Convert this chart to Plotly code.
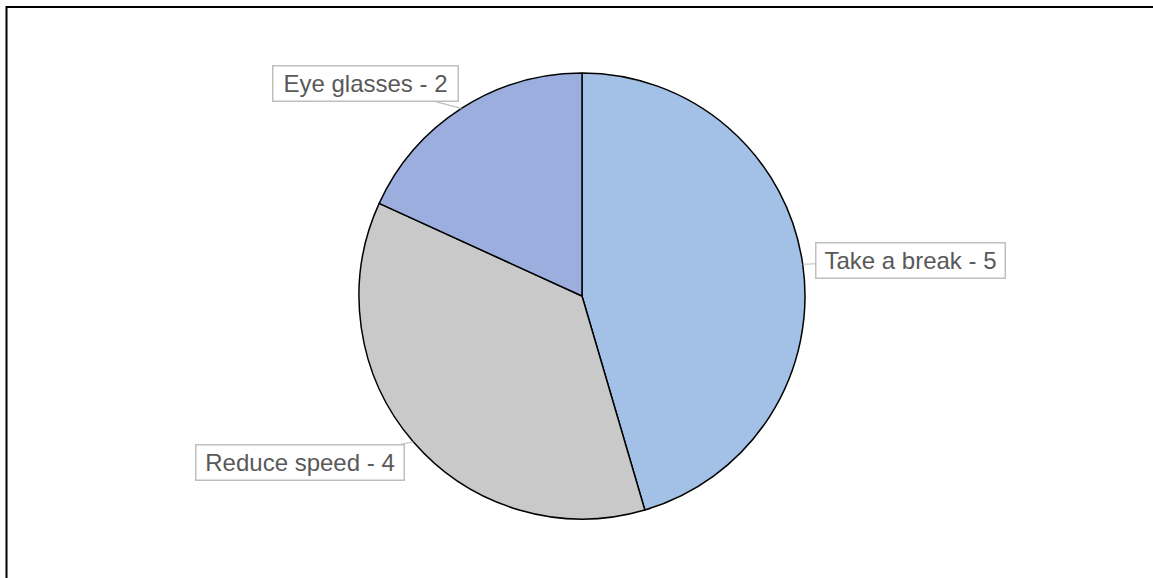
import math
import plotly.graph_objects as go

# Data
labels = ["Take a break", "Reduce speed", "Eye glasses"]
values = [5, 4, 2]
colors = ["#A3C0E6", "#C9C9C9", "#9BAEDE"]

W, H = 1153, 578
# pie placement in pixels (left, top, right, bottom)
px0, py0, px1, py1 = 359, 73, 805, 519
cx, cy = (px0 + px1) / 2, (py0 + py1) / 2
r = (px1 - px0) / 2

fig = go.Figure(go.Pie(
    labels=labels,
    values=values,
    sort=False,
    direction="clockwise",
    rotation=0,
    textinfo="none",
    hoverinfo="label+value",
    marker=dict(colors=colors, line=dict(color="#000000", width=1.5)),
    domain=dict(x=[px0 / W, px1 / W], y=[1 - py1 / H, 1 - py0 / H]),
    showlegend=False,
))

# callout offsets (pixels) from slice edge and label box widths
offsets = {"Take a break": (108, -4), "Reduce speed": (-113, 20), "Eye glasses": (-96, -25)}
box_w = {"Take a break": 182, "Reduce speed": 201, "Eye glasses": 178}

total = sum(values)
cum = 0
annotations = []
for lab, v in zip(labels, values):
    mid = (cum + v / 2) / total * 2 * math.pi
    cum += v
    ex = cx + r * math.sin(mid)
    ey = cy - r * math.cos(mid)
    ax, ay = offsets[lab]
    annotations.append(dict(
        x=ex / W, y=1 - ey / H, xref="paper", yref="paper",
        text=f"{lab} - {v}",
        showarrow=True, arrowhead=0, arrowwidth=1.2, arrowcolor="#BFBFBF",
        ax=ax, ay=ay,
        width=box_w[lab], height=28, align="center", valign="middle",
        font=dict(family="Liberation Sans, Arial, sans-serif", size=24, color="#595959"),
        bgcolor="#FFFFFF", bordercolor="#BFBFBF", borderwidth=1.5, borderpad=3,
    ))

fig.update_layout(
    width=W, height=H,
    margin=dict(l=0, r=0, t=0, b=0),
    paper_bgcolor="#FFFFFF",
    plot_bgcolor="#FFFFFF",
    annotations=annotations,
    shapes=[dict(type="rect", xref="paper", yref="paper",
                 x0=6.5 / W, x1=1.02, y0=-0.02, y1=1 - 7 / H,
                 line=dict(color="#000000", width=2), layer="above")],
)

fig.write_html("out.html")
